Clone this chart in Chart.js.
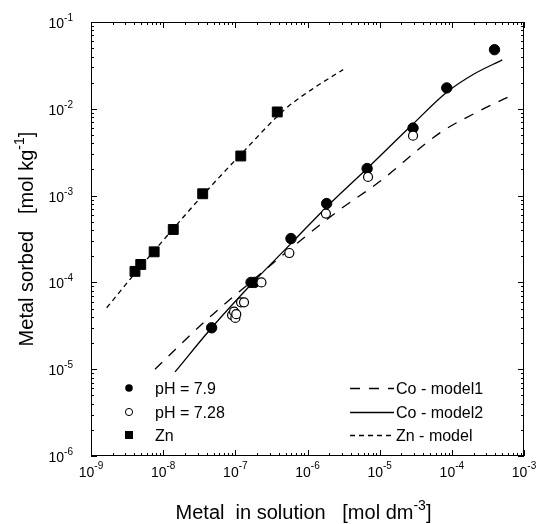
<!DOCTYPE html>
<html>
<head>
<meta charset="utf-8">
<script src="https://cdn.jsdelivr.net/npm/chart.js@4.4.0/dist/chart.umd.min.js"></script>
<style>
  html, body { margin: 0; padding: 0; background: #fff; }
  #wrap { width: 538px; height: 524px; }
</style>
</head>
<body>
<div id="wrap"><canvas id="chart" width="538" height="524"></canvas></div>
<script>
const phHighX = [4.7e-8, 1.65e-7, 1.85e-7, 5.9e-7, 1.84e-6, 6.7e-6, 2.9e-5, 8.5e-5, 3.9e-4];
const phHighY = [3.0e-5, 1.0e-4, 1.0e-4, 3.2e-4, 8.1e-4, 2.05e-3, 6.0e-3, 1.74e-2, 4.8e-2];

const phLowX = [9.0e-8, 9.6e-8, 1.0e-7, 1.03e-7, 1.2e-7, 1.32e-7, 2.3e-7, 5.6e-7, 1.8e-6, 6.9e-6, 2.9e-5];
const phLowY = [4.2e-5, 4.6e-5, 3.9e-5, 4.3e-5, 5.9e-5, 5.9e-5, 1.0e-4, 2.18e-4, 6.2e-4, 1.64e-3, 4.9e-3];

const znX = [4.07e-9, 4.89e-9, 7.5e-9, 1.38e-8, 3.53e-8, 1.19e-7, 3.81e-7];
const znY = [1.34e-4, 1.61e-4, 2.25e-4, 4.07e-4, 1.05e-3, 2.86e-3, 9.2e-3];

// model curves
const model1X = [7.7e-9, 4.0e-8, 1.5e-7, 6.34e-7, 2.81e-6, 1.0e-5, 4.46e-5, 7.6e-5, 2.5e-4, 7.35e-4];
const model1Y = [1.0e-5, 3.7e-5, 9.5e-5, 2.6e-4, 6.9e-4, 1.45e-3, 4.05e-3, 5.6e-3, 9.6e-3, 1.48e-2];

const model2X = [1.46e-8, 4.7e-8, 1.7e-7, 5.9e-7, 1.84e-6, 6.7e-6, 2.8e-5, 8.5e-5, 2.0e-4, 5.0e-4];
const model2Y = [9.3e-6, 3.0e-5, 9.7e-5, 2.8e-4, 7.4e-4, 2.05e-3, 6.5e-3, 1.55e-2, 2.5e-2, 3.66e-2];

const znModelX = [1.65e-9, 4.0e-9, 1.0e-8, 3.5e-8, 1.2e-7, 5.1e-7, 1.34e-6, 3.12e-6];
const znModelY = [5.1e-5, 1.25e-4, 3.05e-4, 1.0e-3, 3.0e-3, 1.02e-2, 1.82e-2, 2.83e-2];

// axis decades (tick labels are 10^n)
const xDecades = [-9, -8, -7, -6, -5, -4, -3];
const yDecades = [-6, -5, -4, -3, -2, -1];

const FONT = '"Liberation Sans", Arial, Helvetica, sans-serif';

function toXY(xs, ys) {
  return xs.map((x, i) => ({ x: x, y: ys[i] }));
}

// draws "base" with a raised exponent; align = 'center' | 'right' | 'left'
function drawPow(ctx, base, exp, x, y, size, supSize, rise, align) {
  ctx.font = size + 'px ' + FONT;
  const wb = ctx.measureText(base).width;
  ctx.font = supSize + 'px ' + FONT;
  const we = ctx.measureText(exp).width;
  let x0 = x;
  if (align === 'center') x0 = x - (wb + we) / 2;
  if (align === 'right') x0 = x - (wb + we);
  ctx.textAlign = 'left';
  ctx.textBaseline = 'alphabetic';
  ctx.font = size + 'px ' + FONT;
  ctx.fillText(base, x0, y);
  ctx.font = supSize + 'px ' + FONT;
  ctx.fillText(exp, x0 + wb, y - rise);
}

// text + superscript + tail, centered at x
function drawTitle(ctx, pre, sup, post, x, y, size, supSize, rise) {
  ctx.font = size + 'px ' + FONT;
  const w1 = ctx.measureText(pre).width;
  const w3 = ctx.measureText(post).width;
  ctx.font = supSize + 'px ' + FONT;
  const w2 = ctx.measureText(sup).width;
  let x0 = x - (w1 + w2 + w3) / 2;
  ctx.textAlign = 'left';
  ctx.textBaseline = 'alphabetic';
  ctx.font = size + 'px ' + FONT;
  ctx.fillText(pre, x0, y);
  ctx.font = supSize + 'px ' + FONT;
  ctx.fillText(sup, x0 + w1, y - rise);
  ctx.font = size + 'px ' + FONT;
  ctx.fillText(post, x0 + w1 + w2, y);
}

const decor = {
  id: 'decor',
  afterDraw(chart) {
    const ctx = chart.ctx;
    const a = chart.chartArea;
    const xs = chart.scales.x;
    const ys = chart.scales.y;
    ctx.save();
    ctx.strokeStyle = '#000';
    ctx.fillStyle = '#000';
    ctx.lineWidth = 1;

    // frame
    ctx.strokeRect(Math.round(a.left) + 0.5, Math.round(a.top) + 0.5,
      Math.round(a.right - a.left) - 1, Math.round(a.bottom - a.top) - 1);

    // inward ticks on all four sides
    ctx.beginPath();
    xDecades.forEach(d => {
      for (let m = 1; m <= 9; m++) {
        const v = m * Math.pow(10, d);
        if (v > xs.max * 1.0001) break;
        const p = Math.round(xs.getPixelForValue(v)) + 0.5;
        const len = m === 1 ? 6 : 3;
        ctx.moveTo(p, a.bottom); ctx.lineTo(p, a.bottom - len);
        ctx.moveTo(p, a.top); ctx.lineTo(p, a.top + len);
      }
    });
    yDecades.forEach(d => {
      for (let m = 1; m <= 9; m++) {
        const v = m * Math.pow(10, d);
        if (v > ys.max * 1.0001) break;
        const p = Math.round(ys.getPixelForValue(v)) + 0.5;
        const len = m === 1 ? 6 : 3;
        ctx.moveTo(a.left, p); ctx.lineTo(a.left + len, p);
        ctx.moveTo(a.right, p); ctx.lineTo(a.right - len, p);
      }
    });
    ctx.stroke();

    // tick labels
    xDecades.forEach(d => {
      const p = xs.getPixelForValue(Math.pow(10, d));
      drawPow(ctx, '10', String(d), p, a.bottom + 21, 14, 10, 8, 'center');
    });
    yDecades.forEach(d => {
      const p = ys.getPixelForValue(Math.pow(10, d));
      drawPow(ctx, '10', String(d), a.left - 18, p + 6, 14, 10, 7, 'right');
    });

    // axis titles
    drawTitle(ctx, 'Metal  in solution   [mol dm', '-3', ']', (a.left + a.right) / 2 - 4, 519, 20, 14, 9);
    ctx.save();
    ctx.translate(33, (a.top + a.bottom) / 2);
    ctx.rotate(-Math.PI / 2);
    drawTitle(ctx, 'Metal sorbed   [mol kg', '-1', ']', 0, 0, 20, 14, 9);
    ctx.restore();

    // legend
    const rows = [388, 412, 435];
    const ds = chart.data.datasets;
    ctx.font = '16px ' + FONT;
    ctx.textAlign = 'left';
    ctx.textBaseline = 'alphabetic';
    // left column: markers
    const mx = 129;
    ctx.beginPath(); ctx.arc(mx, rows[0], 3.8, 0, Math.PI * 2); ctx.fill();
    ctx.beginPath(); ctx.arc(mx, rows[1], 3.6, 0, Math.PI * 2);
    ctx.fillStyle = '#fff'; ctx.fill(); ctx.fillStyle = '#000'; ctx.lineWidth = 1; ctx.stroke();
    ctx.fillRect(mx - 4, rows[2] - 4, 8, 8);
    ctx.fillText(ds[1].label, 155, rows[0] + 6);
    ctx.fillText(ds[0].label, 155, rows[1] + 6);
    ctx.fillText(ds[2].label, 155, rows[2] + 6);
    // right column: line samples
    [3, 4, 5].forEach((k, i) => {
      ctx.save();
      ctx.lineWidth = ds[k].borderWidth;
      ctx.setLineDash(ds[k].borderDash || []);
      ctx.beginPath();
      ctx.moveTo(350, rows[i] + 0.5);
      ctx.lineTo(394, rows[i] + 0.5);
      ctx.stroke();
      ctx.restore();
      ctx.fillText(ds[k].label, 396, rows[i] + 6);
    });
    ctx.restore();
  }
};

const config = {
  type: 'scatter',
  data: {
    datasets: [
      {
        label: 'pH = 7.28',
        data: toXY(phLowX, phLowY),
        pointStyle: 'circle',
        pointRadius: 4.5,
        backgroundColor: '#fff',
        borderColor: '#000',
        borderWidth: 1.2
      },
      {
        label: 'pH = 7.9',
        data: toXY(phHighX, phHighY),
        pointStyle: 'circle',
        pointRadius: 5.2,
        backgroundColor: '#000',
        borderColor: '#000',
        borderWidth: 1
      },
      {
        label: 'Zn',
        data: toXY(znX, znY),
        pointStyle: 'rect',
        pointRadius: 7,
        backgroundColor: '#000',
        borderColor: '#000',
        borderWidth: 1
      },
      {
        label: 'Co - model1',
        data: toXY(model1X, model1Y),
        showLine: true,
        pointRadius: 0,
        borderColor: '#000',
        borderWidth: 1.3,
        borderDash: [10, 9],
        cubicInterpolationMode: 'monotone'
      },
      {
        label: 'Co - model2',
        data: toXY(model2X, model2Y),
        showLine: true,
        pointRadius: 0,
        borderColor: '#000',
        borderWidth: 1.3,
        cubicInterpolationMode: 'monotone'
      },
      {
        label: 'Zn - model',
        data: toXY(znModelX, znModelY),
        showLine: true,
        pointRadius: 0,
        borderColor: '#000',
        borderWidth: 1.3,
        borderDash: [5, 4],
        cubicInterpolationMode: 'monotone'
      }
    ]
  },
  options: {
    responsive: false,
    animation: false,
    layout: { padding: { top: 22, right: 14, left: 0, bottom: 0 } },
    plugins: {
      legend: { display: false },
      tooltip: { enabled: false }
    },
    scales: {
      x: {
        type: 'logarithmic',
        min: 1e-9,
        max: 1e-3,
        grid: { display: false, drawTicks: false },
        border: { display: false },
        ticks: { display: false },
        afterFit: s => { s.height = 68; }
      },
      y: {
        type: 'logarithmic',
        min: 1e-6,
        max: 1e-1,
        grid: { display: false, drawTicks: false },
        border: { display: false },
        ticks: { display: false },
        afterFit: s => { s.width = 91; }
      }
    }
  },
  plugins: [decor]
};

new Chart(document.getElementById('chart').getContext('2d'), config);
</script>
</body>
</html>
